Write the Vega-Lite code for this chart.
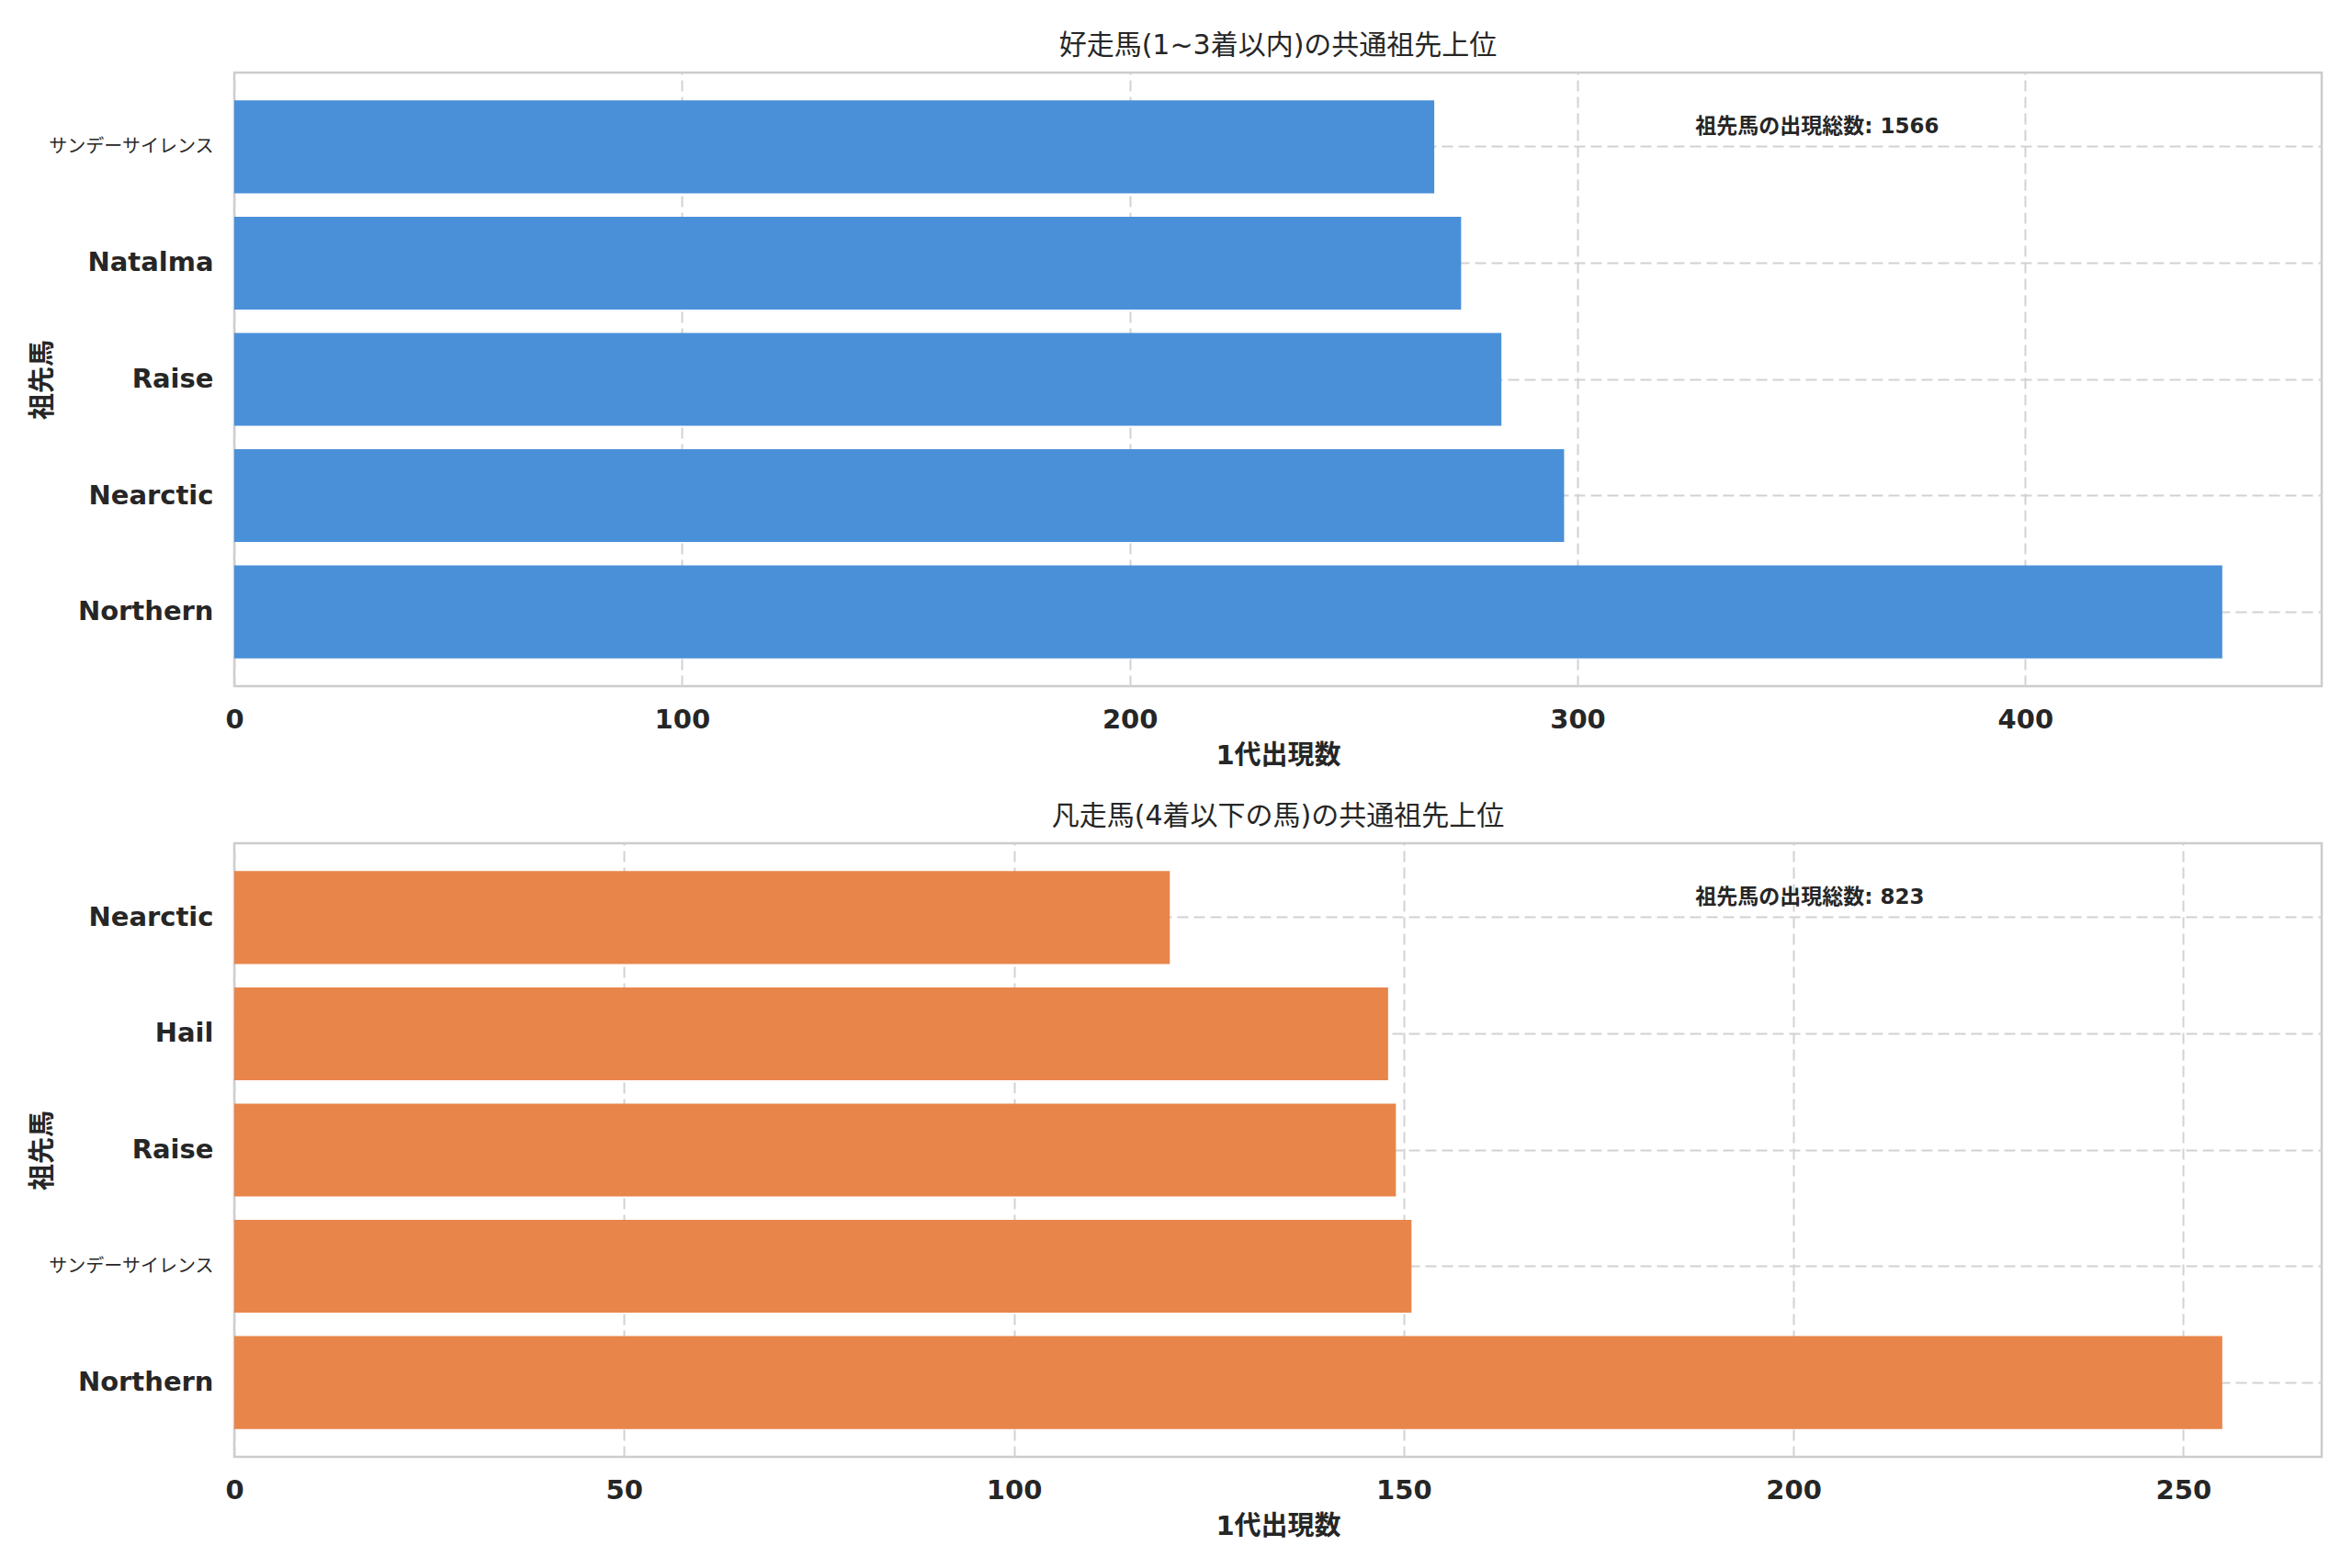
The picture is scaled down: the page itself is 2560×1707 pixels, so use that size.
{
  "$schema": "https://vega.github.io/schema/vega-lite/v6.json",
  "background": "white",
  "padding": {"left": 30, "top": 33, "right": 28, "bottom": 10},
  "spacing": 33,
  "datasets": {
    "top3": [
      {"ancestor": "サンデーサイレンス", "count": 268},
      {"ancestor": "Natalma", "count": 274},
      {"ancestor": "Raise", "count": 283},
      {"ancestor": "Nearctic", "count": 297},
      {"ancestor": "Northern", "count": 444}
    ],
    "rest": [
      {"ancestor": "Nearctic", "count": 120},
      {"ancestor": "Hail", "count": 148},
      {"ancestor": "Raise", "count": 149},
      {"ancestor": "サンデーサイレンス", "count": 151},
      {"ancestor": "Northern", "count": 255}
    ],
    "top3_note": [
      {"ancestor": "サンデーサイレンス", "count": 326.3, "note": "祖先馬の出現総数: 1566"}
    ],
    "rest_note": [
      {"ancestor": "Nearctic", "count": 187.4, "note": "祖先馬の出現総数: 823"}
    ]
  },
  "config": {
    "font": "DejaVu Sans, Noto Sans CJK JP",
    "view": {"stroke": "#cccccc", "strokeWidth": 2.5},
    "axis": {
      "domain": false,
      "ticks": false,
      "grid": true,
      "gridColor": "#d2d2d2",
      "gridDash": [12, 6],
      "gridWidth": 2,
      "labelFontSize": 29,
      "labelFontWeight": "bold",
      "labelColor": "#262626",
      "labelLimit": 400,
      "titleFontSize": 29,
      "titleFontWeight": "bold",
      "titleColor": "#262626"
    },
    "axisX": {"labelPadding": 22, "titlePadding": 10, "labelFlush": false},
    "axisY": {
      "labelPadding": 23,
      "bandPosition": 0.5,
      "titleX": -209,
      "titleBaseline": "middle",
      "labelFontSize": {"condition": {"test": "datum.value == 'サンデーサイレンス'", "value": 20}, "value": 29},
      "labelFontWeight": {"condition": {"test": "datum.value == 'サンデーサイレンス'", "value": "normal"}, "value": "bold"}
    },
    "title": {"fontSize": 30, "fontWeight": "normal", "color": "#262626", "offset": 14}
  },
  "vconcat": [
    {
      "width": 2272,
      "height": 668,
      "title": "好走馬(1~3着以内)の共通祖先上位",
      "layer": [
        {
          "data": {"name": "top3"},
          "mark": {"type": "bar", "color": "#4A90D9"},
          "encoding": {
            "y": {
              "field": "ancestor", "type": "nominal", "title": "祖先馬",
              "sort": ["サンデーサイレンス", "Natalma", "Raise", "Nearctic", "Northern"],
              "scale": {"paddingInner": 0.2, "paddingOuter": 0.24}
            },
            "x": {
              "field": "count", "type": "quantitative", "title": "1代出現数",
              "scale": {"domain": [0, 466.2], "nice": false},
              "axis": {"values": [0, 100, 200, 300, 400]}
            }
          }
        },
        {
          "data": {"name": "top3_note"},
          "mark": {"type": "text", "align": "left", "baseline": "middle", "dy": -22, "fontSize": 23, "fontWeight": "bold", "color": "#262626"},
          "encoding": {
            "y": {
              "field": "ancestor", "type": "nominal", "title": "祖先馬",
              "sort": ["サンデーサイレンス", "Natalma", "Raise", "Nearctic", "Northern"]
            },
            "x": {"field": "count", "type": "quantitative", "title": "1代出現数", "scale": {"domain": [0, 466.2], "nice": false}},
            "text": {"field": "note"}
          }
        }
      ]
    },
    {
      "width": 2272,
      "height": 668,
      "title": "凡走馬(4着以下の馬)の共通祖先上位",
      "layer": [
        {
          "data": {"name": "rest"},
          "mark": {"type": "bar", "color": "#E8854A"},
          "encoding": {
            "y": {
              "field": "ancestor", "type": "nominal", "title": "祖先馬",
              "sort": ["Nearctic", "Hail", "Raise", "サンデーサイレンス", "Northern"],
              "scale": {"paddingInner": 0.2, "paddingOuter": 0.24}
            },
            "x": {
              "field": "count", "type": "quantitative", "title": "1代出現数",
              "scale": {"domain": [0, 267.75], "nice": false},
              "axis": {"values": [0, 50, 100, 150, 200, 250]}
            }
          }
        },
        {
          "data": {"name": "rest_note"},
          "mark": {"type": "text", "align": "left", "baseline": "middle", "dy": -22, "fontSize": 23, "fontWeight": "bold", "color": "#262626"},
          "encoding": {
            "y": {
              "field": "ancestor", "type": "nominal", "title": "祖先馬",
              "sort": ["Nearctic", "Hail", "Raise", "サンデーサイレンス", "Northern"]
            },
            "x": {"field": "count", "type": "quantitative", "title": "1代出現数", "scale": {"domain": [0, 267.75], "nice": false}},
            "text": {"field": "note"}
          }
        }
      ]
    }
  ]
}
